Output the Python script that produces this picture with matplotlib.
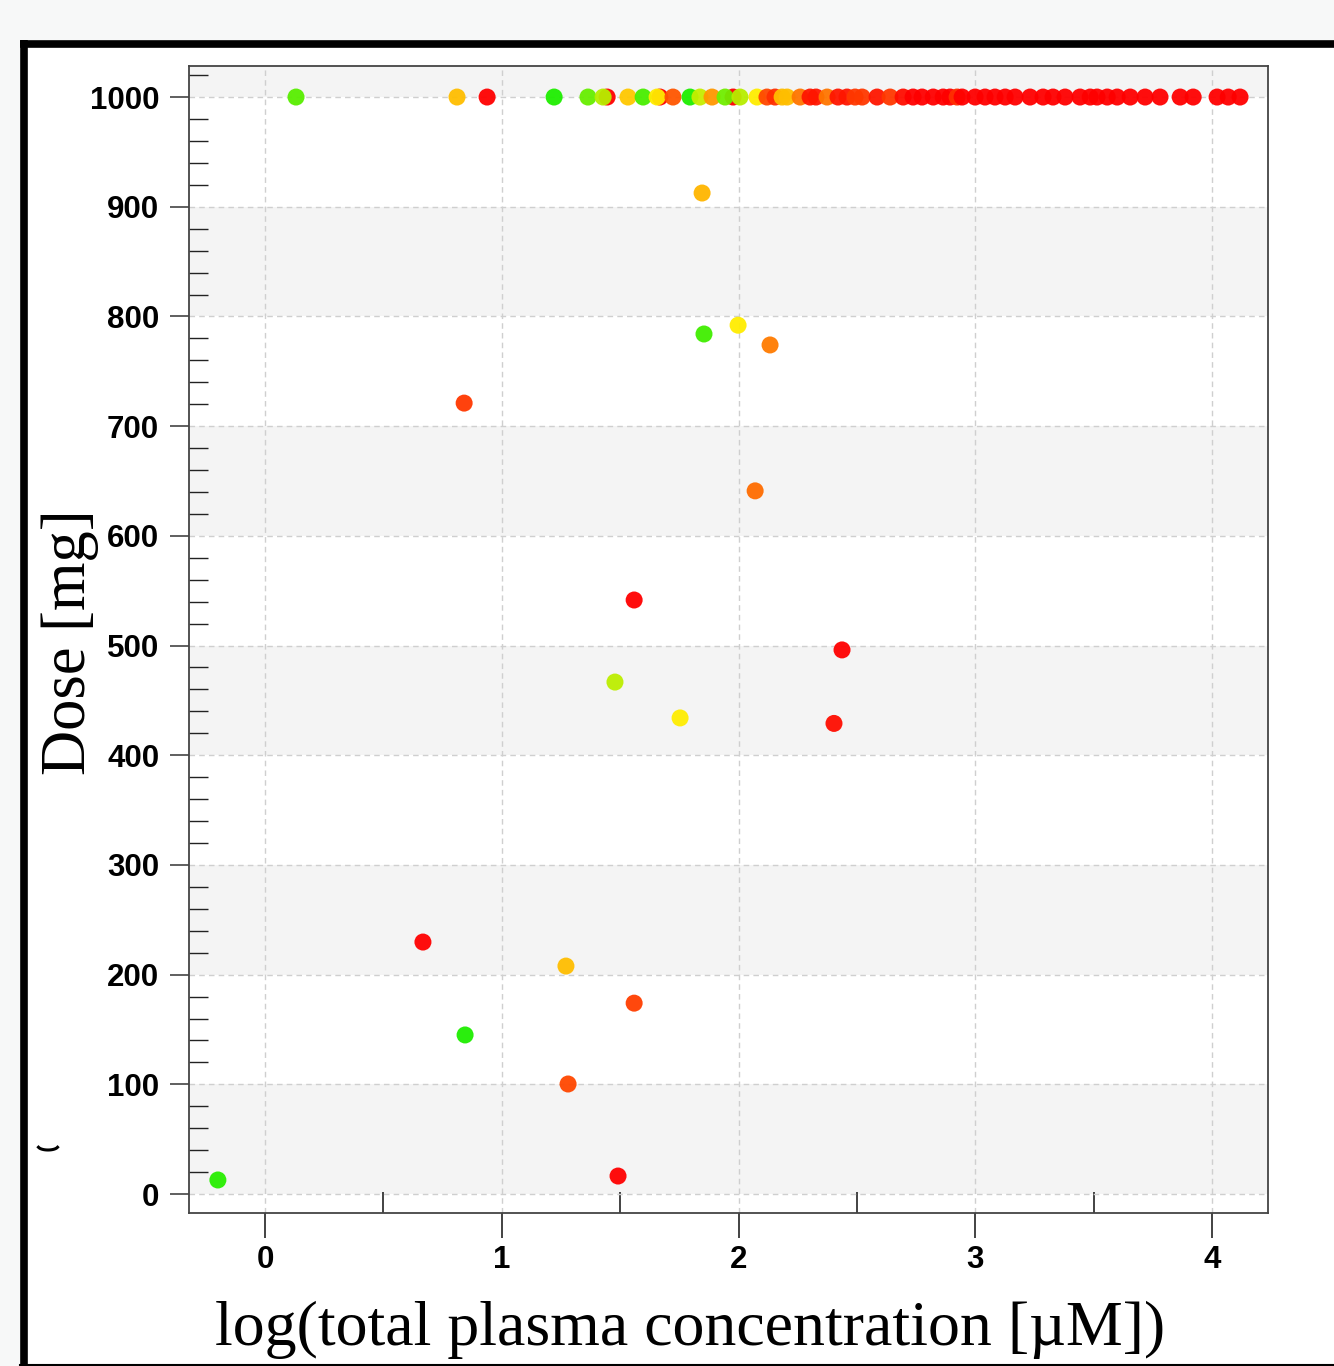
import matplotlib
matplotlib.use("Agg")
import numpy as np
import matplotlib.pyplot as plt
import matplotlib.patches as mpatches
from matplotlib.colors import LinearSegmentedColormap
from matplotlib.ticker import MultipleLocator, FixedLocator

# log(total plasma concentration [uM]), dose [mg], colour score (0 = green, 1 = red)
scatter_x = [-0.199, 0.841, 1.846, 1.854, 1.998, 2.133, 2.070, 1.559, 2.437,
             1.478, 1.753, 2.403, 0.667, 1.271, 1.559, 0.845, 1.280, 1.491]
scatter_dose = [12.8, 721, 912.5, 784, 792, 774, 641, 541.5, 496,
                466.7, 434, 429, 229.7, 207.8, 174, 145, 100.3, 16.4]
scatter_score = [0.05, 0.88, 0.62, 0.10, 0.50, 0.74, 0.77, 1.0, 1.0,
                 0.36, 0.50, 0.97, 1.0, 0.60, 0.87, 0.03, 0.85, 1.0]

# points sitting at the 1000 mg cap
top_x = [0.131, 0.811, 0.938, 1.221, 1.445, 1.364, 1.428, 1.533, 1.597, 1.668,
         1.656, 1.723, 1.795, 1.837, 1.888, 1.977, 1.943, 2.006, 2.078, 2.120,
         2.154, 2.184, 2.205, 2.260, 2.302, 2.327, 2.374, 2.420, 2.458, 2.492,
         2.522, 2.585, 2.640, 2.695, 2.737, 2.775, 2.822, 2.864, 2.893, 2.923,
         2.944, 2.999, 3.041, 3.083, 3.126, 3.168, 3.231, 3.286, 3.328, 3.379,
         3.442, 3.485, 3.514, 3.557, 3.599, 3.654, 3.717, 3.780, 3.865, 3.920,
         4.021, 4.068, 4.118]
top_score = [0.15, 0.60, 1.0, 0.03, 1.0, 0.18, 0.35, 0.58, 0.12, 1.0,
             0.50, 0.82, 0.03, 0.38, 0.68, 1.0, 0.20, 0.35, 0.50, 0.85,
             0.90, 0.60, 0.60, 0.75, 0.95, 0.95, 0.75, 0.95, 0.95, 0.88,
             0.88, 0.95, 0.88, 0.97, 1.0, 1.0, 1.0, 1.0, 1.0, 0.90,
             1.0, 1.0, 1.0, 1.0, 1.0, 1.0, 1.0, 1.0, 1.0, 1.0,
             1.0, 1.0, 1.0, 1.0, 1.0, 1.0, 1.0, 1.0, 1.0, 1.0,
             1.0, 1.0, 1.0]
top_dose = [1000] * len(top_x)

cmap = LinearSegmentedColormap.from_list("gyr", ["#11ee00", "#ffee00", "#ff0000"])

fig = plt.figure(figsize=(13.34, 13.66), dpi=100)
fig.patch.set_facecolor("#f7f8f8")

W, H = 1334.0, 1366.0
# white panel with black frame (kept behind the axes)
fig.patches.append(mpatches.Rectangle((20 / W, 0), 1.0, (H - 40) / H, transform=fig.transFigure,
                                      facecolor="white", edgecolor="none", zorder=-10))
fig.lines.append(plt.Line2D([23.5 / W, 23.5 / W], [0, (H - 40) / H], transform=fig.transFigure,
                            color="black", lw=5.5, solid_capstyle="butt", zorder=-5))
fig.lines.append(plt.Line2D([20 / W, 1.0], [(H - 43.5) / H, (H - 43.5) / H], transform=fig.transFigure,
                            color="black", lw=5.5, solid_capstyle="butt", zorder=-5))
fig.lines.append(plt.Line2D([20 / W, 1.0], [1.2 / H, 1.2 / H], transform=fig.transFigure,
                            color="black", lw=1.5, zorder=-5))
# small crescent mark left of the axis
t = np.linspace(np.pi * 1.1, np.pi * 1.9, 20)
fig.lines.append(plt.Line2D((48 + 10 * np.cos(t)) / W, (H - 1146 + 4 * np.sin(t)) / H,
                            transform=fig.transFigure, color="black", lw=2.2, zorder=-5))

ax = fig.add_axes([189 / W, (H - 1213) / H, 1079 / W, 1147 / H])
ax.set_xlim(-0.321, 4.236)
ax.set_ylim(-17.3, 1028.3)

# alternating bands
for lo, hi in [(800, 900), (600, 700), (400, 500), (200, 300), (0, 100), (1000, 1100)]:
    ax.axhspan(lo, hi, color="#f4f4f4", zorder=0, lw=0)

ax.grid(True, which="major", linestyle=(0, (4, 3)), color="#cfcfcf", lw=1.0, zorder=1)
ax.set_axisbelow(True)

ax.scatter(top_x, top_dose, c=top_score, cmap=cmap, vmin=0, vmax=1, s=150,
           edgecolors="none", alpha=0.95, zorder=3)
ax.scatter(scatter_x, scatter_dose, c=scatter_score, cmap=cmap, vmin=0, vmax=1, s=150,
           edgecolors="none", alpha=0.95, zorder=3)

ax.xaxis.set_major_locator(MultipleLocator(1))
ax.xaxis.set_minor_locator(FixedLocator([0.5, 1.5, 2.5, 3.5]))
ax.yaxis.set_major_locator(MultipleLocator(100))
ax.yaxis.set_minor_locator(MultipleLocator(20))

ax.tick_params(axis="x", which="major", direction="out", length=18, width=1.2, pad=5,
               color="#222222", labelsize=22.5)
ax.tick_params(axis="x", which="minor", direction="in", length=15, width=1.2, color="#222222")
ax.tick_params(axis="y", which="major", direction="out", length=13.5, width=1.2, pad=8,
               color="#444444", labelsize=22.5)
ax.tick_params(axis="y", which="minor", direction="in", length=13.5, width=1.0, color="#222222")
for lab in ax.get_xticklabels() + ax.get_yticklabels():
    lab.set_fontfamily("Liberation Sans")
    lab.set_fontweight("bold")

for sp in ax.spines.values():
    sp.set_color("#444444")
    sp.set_linewidth(1.3)

fig.text(690 / W, (H - 1330) / H, "log(total plasma concentration [\u00b5M])",
         family="Liberation Serif", fontsize=46, ha="center", va="center")
fig.text(70 / W, (H - 642) / H, "Dose [mg]", family="Liberation Serif", fontsize=45,
         rotation=90, ha="center", va="center")

fig.savefig("out.png", dpi=100, facecolor=fig.get_facecolor())
